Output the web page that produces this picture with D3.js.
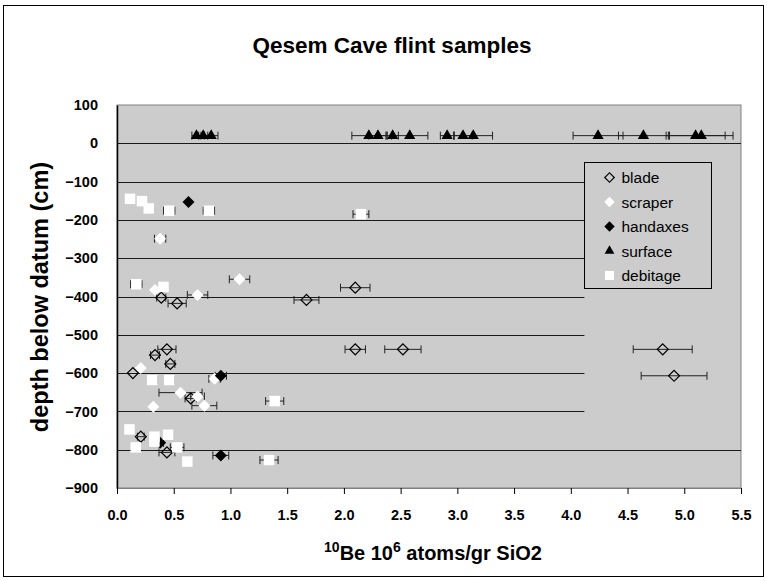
<!DOCTYPE html>
<html>
<head>
<meta charset="utf-8">
<script src="https://cdn.jsdelivr.net/npm/d3@7"></script>
<style>
  body { margin: 0; background: #fff; }
  svg { font-family: Arial, "Liberation Sans", sans-serif; }
</style>
</head>
<body>
<div id="chart"></div>
<script>
// Data: [10Be (10^6 atoms/gr SiO2), depth (cm), error half-width]
const blade = [
  [0.39, -403, 0.04], [0.53, -418, 0.08], [1.67, -409, 0.11], [2.10, -377, 0.13],
  [0.44, -538, 0.08], [0.335, -553, 0.04], [0.47, -576, 0.04], [0.14, -600, 0],
  [2.10, -538, 0.09], [2.52, -538, 0.16], [4.81, -538, 0.26], [4.91, -607, 0.29],
  [0.65, -666, 0.05], [0.21, -766, 0.03], [0.44, -807, 0.07]
];
const scraper = [
  [0.38, -249, 0.05], [0.335, -383, 0], [0.71, -396, 0.09], [1.08, -355, 0.09],
  [0.21, -587, 0], [0.86, -615, 0.05], [0.56, -651, 0.19], [0.71, -661, 0.06],
  [0.77, -685, 0.11], [0.32, -688, 0]
];
const handaxes = [
  [0.63, -153, 0], [0.915, -607, 0.05], [0.38, -782, 0.03], [0.915, -815, 0.07]
];
const surface = [
  [0.70, 20, 0.04], [0.76, 20, 0.04], [0.83, 20, 0.06],
  [2.22, 20, 0.15], [2.30, 20, 0.08], [2.43, 20, 0.05], [2.58, 20, 0.16],
  [2.91, 20, 0.06], [3.05, 20, 0.08], [3.14, 20, 0.17],
  [4.24, 20, 0.22], [4.64, 20, 0.22], [5.10, 20, 0.26], [5.15, 20, 0.28]
];
const debitage = [
  [0.115, -145, 0], [0.22, -151, 0], [0.28, -170, 0], [0.46, -176, 0.05],
  [0.81, -176, 0.05], [2.15, -185, 0.07], [0.17, -368, 0.05], [0.41, -375, 0],
  [0.31, -618, 0.04], [0.46, -618, 0.04], [1.39, -673, 0.08],
  [0.11, -747, 0], [0.33, -766, 0], [0.45, -761, 0], [0.33, -779, 0],
  [0.165, -794, 0], [0.53, -794, 0.06], [0.62, -831, 0], [1.34, -827, 0.08]
];

const xTicks = [0, 0.5, 1, 1.5, 2, 2.5, 3, 3.5, 4, 4.5, 5, 5.5];
const yTicks = [100, 0, -100, -200, -300, -400, -500, -600, -700, -800, -900];

const seriesNames = ['blade', 'scraper', 'handaxes', 'surface', 'debitage'];
const seriesData = [blade, scraper, handaxes, surface, debitage];

const W = 767, H = 581;
const margin = { top: 105, left: 117 };
const width = 624, height = 383;

const svg = d3.select('#chart')
  .append('svg')
  .attr('width', W)
  .attr('height', H);

// Outer frame
svg.append('rect')
  .attr('x', 3.5).attr('y', 5.5)
  .attr('width', 760).attr('height', 571)
  .attr('fill', '#fff')
  .attr('stroke', '#000')
  .attr('stroke-width', 1);

// Title
svg.append('text')
  .attr('x', 392).attr('y', 53)
  .attr('text-anchor', 'middle')
  .attr('font-size', 22.5)
  .attr('font-weight', 'bold')
  .text('Qesem Cave flint samples');

const x = d3.scaleLinear().domain([0, 5.5]).range([0, width]);
const y = d3.scaleLinear().domain([-900, 100]).range([height, 0]);

const g = svg.append('g')
  .attr('transform', `translate(${margin.left}, ${margin.top})`);

// Plot background
g.append('rect')
  .attr('width', width).attr('height', height)
  .attr('fill', '#cccccc')
  .attr('stroke', '#808080')
  .attr('stroke-width', 1);

// Gridlines (the ones behind the legend stop short)
g.selectAll('.grid')
  .data(yTicks.filter(d => d < 100 && d > -900))
  .enter().append('line')
  .attr('x1', 0)
  .attr('x2', d => (d < 0 && d > -800) ? x(4.12) : width)
  .attr('y1', d => Math.round(y(d)) + 0.5)
  .attr('y2', d => Math.round(y(d)) + 0.5)
  .attr('stroke', '#1a1a1a')
  .attr('stroke-width', 1);

// Y axis
const yAxis = g.append('g')
  .call(d3.axisLeft(y).tickValues(yTicks).tickSize(0).tickPadding(19).tickFormat(d3.format('d')));
yAxis.select('.domain').attr('stroke', '#000').attr('stroke-width', 1.5);
yAxis.selectAll('text')
  .attr('font-size', 14.5)
  .attr('font-weight', 'bold')
  .attr('font-family', 'Arial, "Liberation Sans", sans-serif')
  .attr('fill', '#000');

// X axis
const xAxis = g.append('g')
  .attr('transform', `translate(0, ${height})`)
  .call(d3.axisBottom(x).tickValues(xTicks).tickSize(6).tickPadding(16).tickFormat(d3.format('.1f')));
xAxis.select('.domain').attr('stroke', '#808080');
xAxis.selectAll('.tick line').attr('stroke', '#000');
xAxis.selectAll('text')
  .attr('font-size', 14.5)
  .attr('font-weight', 'bold')
  .attr('font-family', 'Arial, "Liberation Sans", sans-serif')
  .attr('fill', '#000');

// Axis titles
svg.append('text')
  .attr('transform', 'translate(48, 297) rotate(-90)')
  .attr('text-anchor', 'middle')
  .attr('font-size', 23.5)
  .attr('font-weight', 'bold')
  .text('depth below datum (cm)');

const xt = svg.append('text')
  .attr('x', 433).attr('y', 560)
  .attr('text-anchor', 'middle')
  .attr('font-size', 20)
  .attr('font-weight', 'bold');
xt.append('tspan').attr('font-size', 14).attr('dy', -8).text('10');
xt.append('tspan').attr('dy', 8).text('Be 10');
xt.append('tspan').attr('font-size', 14).attr('dy', -8).text('6');
xt.append('tspan').attr('dy', 8).text(' atoms/gr SiO2');

// Marker styles (diamonds are squares turned 45 degrees)
const markers = {
  blade: { type: d3.symbolSquare, size: 60, rot: 45, fill: 'none', stroke: '#000' },
  scraper: { type: d3.symbolSquare, size: 72, rot: 45, fill: '#fff', stroke: 'none' },
  handaxes: { type: d3.symbolSquare, size: 72, rot: 45, fill: '#000', stroke: 'none' },
  surface: { type: d3.symbolTriangle, size: 55, rot: 0, fill: '#000', stroke: 'none' },
  debitage: { type: d3.symbolSquare, size: 110, rot: 0, fill: '#fff', stroke: 'none' }
};

// Error bars
seriesData.forEach((data, i) => {
  const eb = g.append('g').attr('class', 'err-' + seriesNames[i]);
  data.filter(d => d[2] > 0).forEach(d => {
    const yy = y(d[1]);
    eb.append('line')
      .attr('x1', x(d[0] - d[2])).attr('x2', x(d[0] + d[2]))
      .attr('y1', yy).attr('y2', yy)
      .attr('stroke', '#222').attr('stroke-width', 1);
    [d[0] - d[2], d[0] + d[2]].forEach(v => {
      eb.append('line')
        .attr('x1', x(v)).attr('x2', x(v))
        .attr('y1', yy - 4).attr('y2', yy + 4)
        .attr('stroke', '#222').attr('stroke-width', 1);
    });
  });
});

// Points
seriesData.forEach((data, i) => {
  const m = markers[seriesNames[i]];
  g.append('g')
    .selectAll('path')
    .data(data)
    .enter().append('path')
    .attr('d', d3.symbol().type(m.type).size(m.size))
    .attr('transform', d => `translate(${x(d[0])}, ${y(d[1])}) rotate(${m.rot})`)
    .attr('fill', m.fill)
    .attr('stroke', m.stroke)
    .attr('stroke-width', 1.2);
});

// Legend
const legend = svg.append('g').attr('transform', 'translate(584.5, 162.5)');
legend.append('rect')
  .attr('width', 127).attr('height', 126)
  .attr('fill', '#cccccc')
  .attr('stroke', '#000')
  .attr('stroke-width', 1);

seriesNames.forEach((name, i) => {
  const m = markers[name];
  const row = legend.append('g').attr('transform', `translate(25, ${15 + i * 24.5})`);
  row.append('path')
    .attr('d', d3.symbol().type(m.type).size(m.size * 0.75))
    .attr('transform', `rotate(${m.rot})`)
    .attr('fill', m.fill)
    .attr('stroke', m.stroke)
    .attr('stroke-width', 1.2);
  row.append('text')
    .attr('x', 12).attr('y', 5.5)
    .attr('font-size', 15.5)
    .text(name);
});
</script>
</body>
</html>
